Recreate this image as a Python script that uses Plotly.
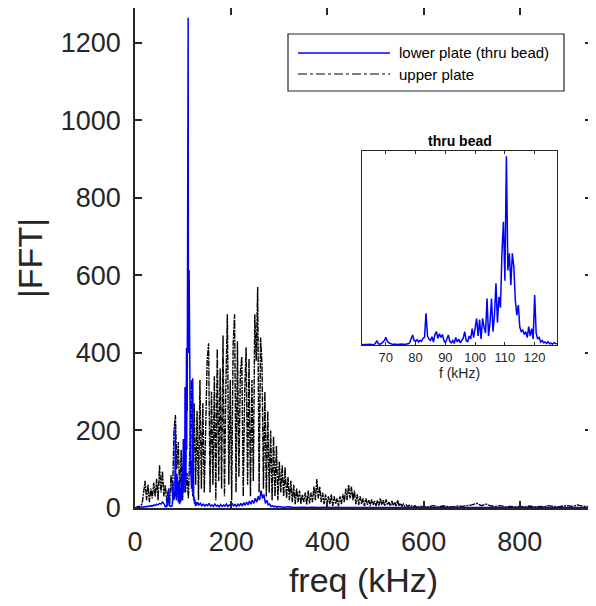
import numpy as np
import plotly.graph_objects as go

# ---------------- data ----------------
# upper plate |FFT|, 3 kHz bins 0..597 kHz
upper_f_a = np.arange(0, 600, 3)
upper_v_a = [
    0, 2, 4, 3, 6, 12, 35, 70, 20, 60,
    15, 50, 25, 65, 30, 75, 20, 110, 40, 95,
    30, 60, 15, 45, 10, 85, 30, 200, 240, 100,
    170, 30, 150, 20, 120, 40, 90, 25, 150, 330,
    30, 270, 60, 250, 20, 330, 50, 270, 40, 180,
    380, 425, 40, 300, 60, 340, 20, 410, 70, 360,
    50, 445, 30, 320, 500, 60, 330, 20, 420, 500,
    40, 430, 80, 350, 390, 30, 300, 415, 60, 385,
    30, 330, 70, 500, 380, 570, 40, 440, 370, 50,
    300, 30, 250, 40, 200, 20, 185, 30, 160, 20,
    120, 40, 110, 30, 105, 25, 80, 20, 70, 15,
    60, 10, 50, 15, 45, 10, 35, 15, 40, 8,
    45, 12, 40, 15, 55, 20, 75, 25, 55, 15,
    40, 10, 35, 8, 30, 10, 35, 5, 30, 10,
    25, 5, 30, 10, 35, 15, 50, 20, 60, 25,
    55, 20, 45, 10, 35, 8, 30, 10, 25, 5,
    25, 8, 20, 5, 22, 8, 18, 5, 20, 6,
    25, 8, 20, 5, 22, 8, 15, 5, 18, 6,
    15, 5, 20, 5, 12, 4, 10, 4, 8, 3,
    7, 3, 6, 3, 6, 2, 5, 2, 5, 2,
]
# upper plate, 10 kHz bins 600..950 kHz
upper_f_b = np.arange(600, 951, 10)
upper_v_b = [
    4, 3, 6, 3, 5, 4, 3, 5, 4, 6,
    8, 12, 6, 10, 5, 4, 6, 3, 4, 3,
    4, 3, 5, 3, 4, 3, 6, 4, 3, 5,
    6, 4, 8, 5, 4, 3,
]

# lower plate (thru bead) |FFT|
lower_f_a = np.arange(0, 61, 3)
lower_v_a = [0, 1, 2, 1, 2, 3, 2, 4, 3, 5, 4, 6, 5, 8, 6, 10, 8, 12, 10, 15, 12]

lower_f_b = np.arange(62, 128.01, 0.5)
lower_v_b = [
    3, 2, 4, 2, 3, 5, 3, 4, 2, 12,
    29, 8, 5, 10, 20, 30, 51, 25, 15, 8,
    6, 4, 7, 3, 5, 3, 4, 6, 3, 5,
    4, 8, 15, 40, 67, 30, 25, 35, 20, 30,
    25, 45, 50, 212, 60, 40, 30, 55, 20, 70,
    89, 45, 75, 50, 70, 30, 15, 40, 67, 25,
    15, 30, 10, 50, 20, 40, 15, 30, 45, 89,
    30, 20, 60, 40, 110, 50, 120, 178, 60, 170,
    40, 178, 120, 80, 312, 60, 150, 312, 90, 200,
    413, 150, 323, 250, 614, 825, 430, 1265, 500, 614,
    400, 614, 524, 300, 200, 268, 120, 90, 100, 70,
    90, 50, 123, 60, 110, 40, 335, 80, 40, 51,
    20, 30, 15, 20, 10, 22, 8, 12, 5, 16,
    10, 8, 6,
]

lower_f_c = np.arange(130, 299, 3)
lower_v_c = [
    15, 8, 12, 6, 10, 5, 9, 6, 12, 5,
    8, 4, 10, 5, 7, 3, 9, 4, 8, 5,
    10, 4, 8, 6, 12, 5, 9, 4, 10, 6,
    12, 5, 14, 7, 15, 8, 18, 10, 20, 12,
    25, 15, 30, 20, 45, 25, 35, 12, 20, 8,
    10, 4, 6, 3, 5, 2, 4,
]

lower_f_d = np.arange(300, 951, 10)
lower_v_d = [
    3, 2, 3, 1, 2, 2, 1, 2, 1, 2,
    2, 1, 2, 1, 1, 2, 1, 1, 2, 1,
    1, 2, 1, 1, 1, 2, 1, 1, 1, 1,
    1, 1, 2, 1, 1, 1, 1, 2, 1, 1,
    1, 1, 1, 2, 1, 1, 1, 1, 1, 1,
    1, 1, 1, 1, 2, 1, 1, 1, 1, 1,
    1, 1, 2, 1, 1, 1,
]

x_ticks = [0, 200, 400, 600, 800]
y_ticks = [0, 200, 400, 600, 800, 1000, 1200]
inset_x_ticks = [70, 80, 90, 100, 110, 120]

upper_f = np.concatenate([upper_f_a, upper_f_b])
upper_v = list(upper_v_a) + list(upper_v_b)
lower_f = np.concatenate([lower_f_a, lower_f_b, lower_f_c, lower_f_d])
lower_v = list(lower_v_a) + list(lower_v_b) + list(lower_v_c) + list(lower_v_d)
assert len(upper_f) == len(upper_v)
assert len(lower_f) == len(lower_v)

# ---------------- figure ----------------
# the page body adds an 8 px offset; the figure is sized to compensate
FONT = "Liberation Sans, Arial, Helvetica, sans-serif"
TXT = "#262626"
OFF = 8
W, H = 588, 598
L, R, T, B = 127, 4, 0, 98
PW, PH = W - L - R, H - T - B


def px(x):  # page pixel -> paper x
    return (x - OFF - L) / PW


def py(y):  # page pixel -> paper y
    return (H - B - (y - OFF)) / PH


fig = go.Figure()
fig.add_trace(go.Scatter(
    x=upper_f, y=upper_v, mode="lines", name="upper plate",
    line=dict(color="black", width=1.4, dash="6px,1px,2px,1px"), showlegend=False,
))
fig.add_trace(go.Scatter(
    x=lower_f, y=lower_v, mode="lines", name="lower plate (thru bead)",
    line=dict(color="#0000FF", width=1.5), showlegend=False,
))
# inset
fig.add_trace(go.Scatter(
    x=lower_f, y=lower_v, mode="lines", name="thru bead",
    line=dict(color="#0000FF", width=1.5), showlegend=False,
    xaxis="x2", yaxis="y2",
))

axis_common = dict(
    showgrid=False, zeroline=False, showline=True, linecolor=TXT,
    mirror="ticks", ticks="inside", tickcolor=TXT, automargin=False,
)

fig.update_layout(
    width=W, height=H, autosize=False,
    margin=dict(l=L, r=R, t=T, b=B),
    paper_bgcolor="white", plot_bgcolor="white",
    font=dict(family=FONT, color=TXT),
    xaxis=dict(
        **axis_common, range=[0, 950], tickvals=x_ticks, linewidth=1.5,
        ticklen=7, tickwidth=1.5, ticklabelstandoff=9,
        tickfont=dict(size=27, color=TXT),
        title=dict(text="freq (kHz)", font=dict(size=34, color=TXT), standoff=12),
    ),
    yaxis=dict(
        **axis_common, range=[0, 1290], tickvals=y_ticks, linewidth=1.5,
        ticklen=7, tickwidth=1.5, ticklabelstandoff=7,
        tickfont=dict(size=27, color=TXT),
        title=dict(text="|FFT|", font=dict(size=34, color=TXT), standoff=8),
    ),
    xaxis2=dict(
        **axis_common, domain=[px(362), px(557)], anchor="y2",
        range=[62, 127.5], tickvals=inset_x_ticks, linewidth=1,
        ticklen=3, tickfont=dict(size=13, color=TXT),
        title=dict(text="f (kHz)", font=dict(size=14, color=TXT), standoff=4),
    ),
    yaxis2=dict(
        showgrid=False, zeroline=False, showline=True, linecolor=TXT,
        mirror=True, linewidth=1, ticks="", showticklabels=False,
        domain=[py(345), py(151)], anchor="x2", range=[0, 1300],
    ),
    showlegend=False,
)

# inset title
fig.add_annotation(
    x=px(459.5), y=py(151), xref="paper", yref="paper",
    text="<b>thru bead</b>", showarrow=False, xanchor="center", yanchor="bottom",
    font=dict(size=14, color="black", family=FONT),
)

# legend box (drawn)
fig.add_shape(type="rect", xref="paper", yref="paper",
              x0=px(288), x1=px(564), y0=py(91), y1=py(34),
              line=dict(color=TXT, width=1.2), fillcolor="white", layer="above")
fig.add_shape(type="line", xref="paper", yref="paper",
              x0=px(298), x1=px(390), y0=py(53), y1=py(53),
              line=dict(color="#0000FF", width=1.5), layer="above")
fig.add_shape(type="line", xref="paper", yref="paper",
              x0=px(298), x1=px(390), y0=py(74), y1=py(74),
              line=dict(color="black", width=1, dash="dashdot"), layer="above")
fig.add_annotation(x=px(397), y=py(53), xref="paper", yref="paper",
                   text="lower plate (thru bead)", showarrow=False,
                   xanchor="left", yanchor="middle",
                   font=dict(size=15, color="black", family=FONT))
fig.add_annotation(x=px(397), y=py(74), xref="paper", yref="paper",
                   text="upper plate", showarrow=False,
                   xanchor="left", yanchor="middle",
                   font=dict(size=15, color="black", family=FONT))

fig.write_html("out.html")
